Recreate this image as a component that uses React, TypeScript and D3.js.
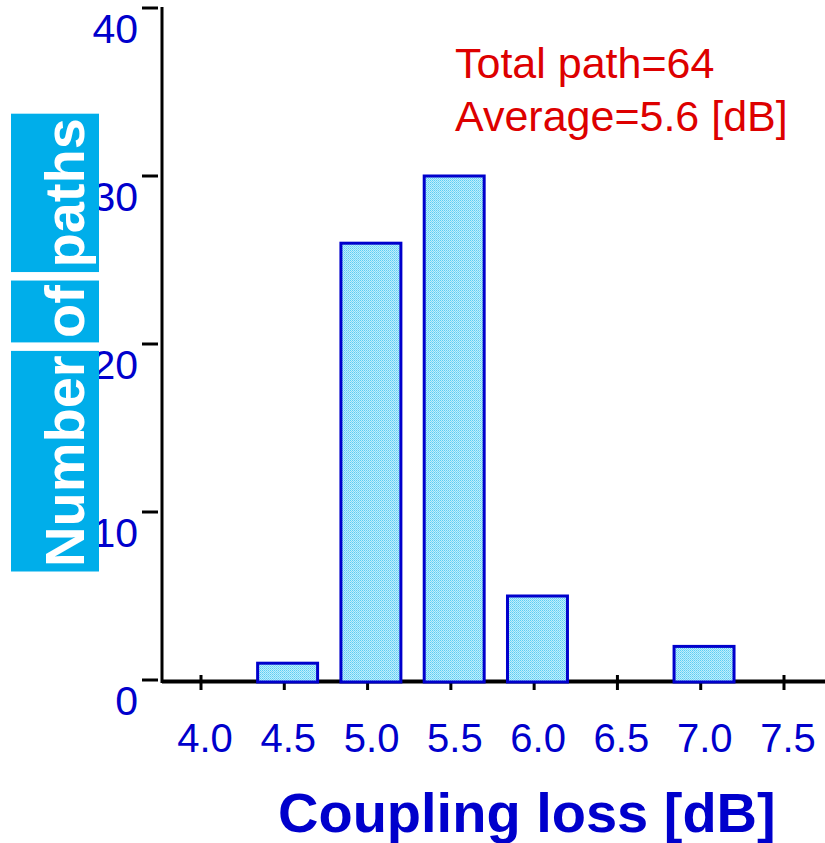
import React, { useEffect, useRef } from 'react';
import * as d3 from 'd3';

// histogram bins (coupling loss, dB) and number of paths in each
const binCenters = [4.0, 4.5, 5.0, 5.5, 6.0, 6.5, 7.0, 7.5];
const pathCounts = [0, 1, 26, 30, 5, 0, 2, 0];
const xTickValues = [4.0, 4.5, 5.0, 5.5, 6.0, 6.5, 7.0, 7.5];
const yTickValues = [0, 10, 20, 30, 40];
const yLabelWords = ['Number', 'of', 'paths'];
const noteLines = ['Total path=64', 'Average=5.6 [dB]'];

const W = 825;
const H = 843;
const FONT = '"Liberation Sans", Arial, Helvetica, sans-serif';
const BLUE = '#0000cc';

const App = () => {
  const ref = useRef<SVGSVGElement | null>(null);

  useEffect(() => {
    const svg = d3.select(ref.current);
    svg.selectAll('*').remove();

    const x = d3.scaleLinear().domain([4.0, 7.5]).range([201, 784]);
    const y = d3.scaleLinear().domain([0, 40]).range([680, 8]);

    // dotted light-blue fill of the bars
    const defs = svg.append('defs');
    const pat = defs
      .append('pattern')
      .attr('id', 'dots')
      .attr('width', 2)
      .attr('height', 2)
      .attr('patternUnits', 'userSpaceOnUse');
    pat.append('rect').attr('width', 2).attr('height', 2).attr('fill', '#bfeefc');
    pat.append('rect').attr('width', 1).attr('height', 1).attr('fill', '#5ccdf3');
    pat.append('rect').attr('x', 1).attr('y', 1).attr('width', 1).attr('height', 1).attr('fill', '#7ed8f6');

    // y tick labels
    svg
      .append('g')
      .selectAll('text')
      .data(yTickValues)
      .enter()
      .append('text')
      .attr('x', 138)
      .attr('y', (d) => y(d) + 35)
      .attr('text-anchor', 'end')
      .attr('font-family', FONT)
      .attr('font-size', 41)
      .attr('fill', BLUE)
      .text((d) => d);

    // y ticks
    svg
      .append('g')
      .selectAll('line')
      .data(yTickValues)
      .enter()
      .append('line')
      .attr('x1', 142)
      .attr('x2', 158)
      .attr('y1', (d) => y(d))
      .attr('y2', (d) => y(d))
      .attr('stroke', '#000')
      .attr('stroke-width', 3);

    // x ticks
    svg
      .append('g')
      .selectAll('line')
      .data(xTickValues)
      .enter()
      .append('line')
      .attr('x1', (d) => x(d))
      .attr('x2', (d) => x(d))
      .attr('y1', 675)
      .attr('y2', 690)
      .attr('stroke', '#000')
      .attr('stroke-width', 3);

    // x tick labels
    svg
      .append('g')
      .selectAll('text')
      .data(xTickValues)
      .enter()
      .append('text')
      .attr('x', (d) => x(d) + 4)
      .attr('y', 752)
      .attr('text-anchor', 'middle')
      .attr('font-family', FONT)
      .attr('font-size', 40)
      .attr('fill', BLUE)
      .text((d) => d.toFixed(1));

    // axis lines
    svg
      .append('line')
      .attr('x1', 162)
      .attr('x2', W)
      .attr('y1', 681.5)
      .attr('y2', 681.5)
      .attr('stroke', '#000')
      .attr('stroke-width', 4);
    svg
      .append('line')
      .attr('x1', 162)
      .attr('x2', 162)
      .attr('y1', 7)
      .attr('y2', 683)
      .attr('stroke', '#000')
      .attr('stroke-width', 3);

    // bars
    const bins = binCenters.map((c, i) => ({ c, n: pathCounts[i] })).filter((d) => d.n > 0);
    svg
      .append('g')
      .selectAll('rect')
      .data(bins)
      .enter()
      .append('rect')
      .attr('x', (d) => x(d.c - 0.16))
      .attr('width', (d) => x(d.c + 0.2) - x(d.c - 0.16))
      .attr('y', (d) => y(d.n))
      .attr('height', (d) => y(0) + 2 - y(d.n))
      .attr('fill', 'url(#dots)')
      .attr('stroke', BLUE)
      .attr('stroke-width', 3);

    // y axis label: white bold words on cyan boxes, rotated
    const lab = svg.append('g');
    let pos = 567;
    yLabelWords.forEach((w) => {
      const g = lab.append('g');
      const t = g
        .append('text')
        .attr('transform', `translate(84,${pos}) rotate(-90)`)
        .attr('font-family', FONT)
        .attr('font-weight', 'bold')
        .attr('font-size', 56)
        .attr('fill', '#fff')
        .text(w);
      const len = (t.node() as SVGTextElement).getComputedTextLength();
      g.insert('rect', 'text')
        .attr('x', 11)
        .attr('width', 88)
        .attr('y', pos - len - 4.5)
        .attr('height', len + 9)
        .attr('fill', '#00aeea');
      pos = pos - len - 17.5;
    });

    // annotation
    svg
      .append('g')
      .selectAll('text')
      .data(noteLines)
      .enter()
      .append('text')
      .attr('x', 455)
      .attr('y', (d, i) => 78 + i * 53)
      .attr('font-family', FONT)
      .attr('font-size', 43)
      .attr('fill', '#dd0000')
      .text((d) => d);

    // x axis title
    svg
      .append('text')
      .attr('x', 278)
      .attr('y', 832)
      .attr('font-family', FONT)
      .attr('font-weight', 'bold')
      .attr('font-size', 56)
      .attr('fill', BLUE)
      .text('Coupling loss [dB]');
  }, []);

  return (
    <svg
      ref={ref}
      width={W}
      height={H}
      style={{ position: 'absolute', left: 0, top: 0, background: '#fff' }}
    />
  );
};

export default App;
